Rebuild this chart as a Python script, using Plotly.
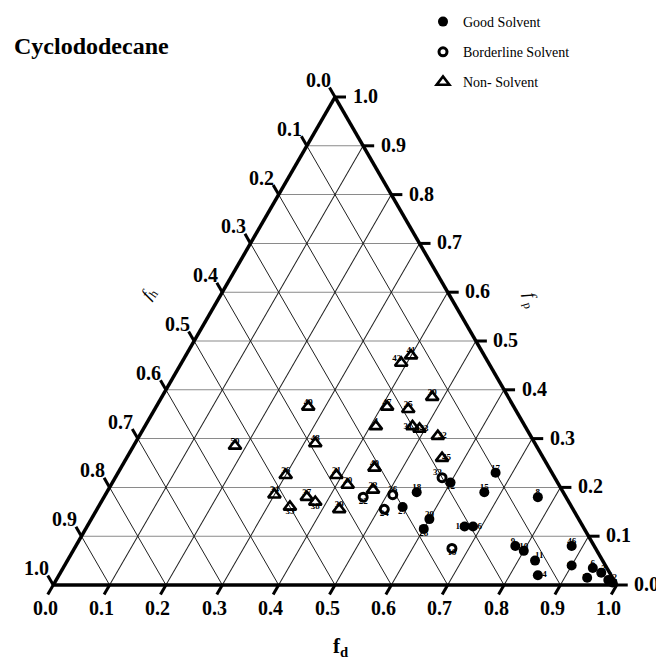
import math
import plotly.graph_objects as go

# ---------------- data ----------------
good_ids = [1, 2, 3, 5, 6, 7, 8, 9, 10, 11, 12, 13, 14, 15, 16, 17, 18, 27, 28, 29, 46]
good_fd = [0.98, 0.99, 0.96, 0.90, 0.94, 0.94, 0.77, 0.78, 0.80, 0.83, 0.60, 0.67, 0.85, 0.67, 0.685, 0.67, 0.55, 0.54, 0.60, 0.60, 0.88]
good_fp = [0.01, 0.005, 0.025, 0.04, 0.035, 0.015, 0.18, 0.08, 0.07, 0.05, 0.21, 0.12, 0.02, 0.19, 0.12, 0.23, 0.19, 0.16, 0.115, 0.135, 0.08]
good_fh = [0.01, 0.005, 0.015, 0.06, 0.025, 0.045, 0.05, 0.14, 0.13, 0.12, 0.19, 0.21, 0.13, 0.14, 0.195, 0.10, 0.26, 0.30, 0.285, 0.265, 0.04]

border_ids = [19, 22, 24, 26, 33]
border_fd = [0.67, 0.46, 0.51, 0.51, 0.58]
border_fp = [0.075, 0.18, 0.155, 0.185, 0.22]
border_fh = [0.255, 0.36, 0.335, 0.305, 0.20]

non_ids = [4, 20, 21, 23, 25, 30, 31, 32, 34, 35, 36, 37, 38, 39, 40, 41, 42, 43, 45, 47, 48, 49, 50]
non_fd = [0.41, 0.42, 0.39, 0.47, 0.45, 0.48, 0.475, 0.53, 0.30, 0.34, 0.30, 0.36, 0.38, 0.43, 0.45, 0.40, 0.39, 0.49, 0.56, 0.41, 0.32, 0.27, 0.18]
non_fp = [0.325, 0.205, 0.225, 0.195, 0.36, 0.385, 0.325, 0.305, 0.185, 0.16, 0.225, 0.18, 0.17, 0.155, 0.24, 0.47, 0.455, 0.32, 0.26, 0.365, 0.29, 0.365, 0.285]
non_fh = [0.265, 0.375, 0.385, 0.335, 0.19, 0.135, 0.20, 0.165, 0.515, 0.50, 0.475, 0.46, 0.45, 0.415, 0.31, 0.13, 0.155, 0.19, 0.18, 0.225, 0.39, 0.365, 0.535]

tick_vals = [0.0, 0.1, 0.2, 0.3, 0.4, 0.5, 0.6, 0.7, 0.8, 0.9, 1.0]
tick_text = ["0.0", "0.1", "0.2", "0.3", "0.4", "0.5", "0.6", "0.7", "0.8", "0.9", "1.0"]

legend_names = ["Good Solvent", "Borderline Solvent", "Non- Solvent"]
title_text = "Cyclododecane"

# ---------------- layout geometry / styles ----------------
OFF = 8                          # default body margin of the html page
W_PX, H_PX = 664 - OFF, 666 - OFF  # figure fits the window exactly (no scrollbars)
ML, MT = 53 - OFF, 97 - OFF      # screen position of the plot area
PW, PH = 564, 488
MR = W_PX - ML - PW
MB = H_PX - MT - PH
SERIF = "Liberation Serif"

# equilateral triangle fitted & centred in the plot area (as plotly's ternary does) - screen px
TRI_W = min(PW, PH * 2 / math.sqrt(3))
TRI_H = TRI_W * math.sqrt(3) / 2
X0 = OFF + ML + (PW - TRI_W) / 2
YB = OFF + MT + PH - (PH - TRI_H) / 2

good_pos = {1: "top right", 2: "top right", 3: "top right", 5: "middle left", 6: "top center",
            7: "middle left", 8: "top center", 9: "top left", 10: "top center", 11: "top right",
            12: "bottom center", 13: "middle left", 14: "middle right", 15: "top center",
            16: "middle right", 17: "top center", 18: "top center", 27: "bottom center",
            28: "bottom center", 29: "top center", 46: "top center"}
border_pos = {19: "bottom center", 22: "bottom center", 24: "bottom center", 26: "top center", 33: "top left"}
non_pos = {4: "top center", 20: "top center", 21: "top center", 23: "top center", 25: "top center",
           30: "top center", 31: "middle left", 32: "middle right", 34: "top center", 35: "bottom center",
           36: "top center", 37: "top center", 38: "bottom center", 39: "top center", 40: "top center",
           41: "top center", 42: "top left", 43: "middle right", 45: "middle right", 47: "top center",
           48: "top center", 49: "top center", 50: "top center"}


def tern_px(fp, fh, fd):
    """ternary composition -> screen pixel position (same mapping as the ternary subplot)"""
    s = fp + fh + fd
    fp, fd = fp / s, fd / s
    return X0 + TRI_W * (fd + fp / 2), YB - TRI_H * fp


def px_x(px):
    return (px - OFF - ML) / PW


def px_y(py):
    return (OFF + MT + PH - py) / PH


fig = go.Figure()

# data markers (legend)
series = [
    (legend_names[0], good_fd, good_fp, good_fh, dict(symbol="circle", size=10, color="black",
                                                       line=dict(width=0, color="black"))),
    (legend_names[1], border_fd, border_fp, border_fh, dict(symbol="circle-open", size=8, color="black",
                                                             line=dict(width=3, color="black"))),
    (legend_names[2], non_fd, non_fp, non_fh, dict(symbol="triangle-up-open", size=11, color="black",
                                                    line=dict(width=2.6, color="black"))),
]
for i, (name, fd, fp, fh, mk) in enumerate(series):
    fig.add_trace(go.Scatterternary(a=fp, b=fh, c=fd, mode="markers", name=name, marker=mk,
                                    legendgroup="g%d" % i, cliponaxis=False, hoverinfo="skip"))

# point number labels
for ids, fd, fp, fh, pos in [(good_ids, good_fd, good_fp, good_fh, good_pos),
                             (border_ids, border_fd, border_fp, border_fh, border_pos),
                             (non_ids, non_fd, non_fp, non_fh, non_pos)]:
    fig.add_trace(go.Scatterternary(a=fp, b=fh, c=fd, mode="text", text=[str(k) for k in ids],
                                    textposition=[pos[k] for k in ids],
                                    textfont=dict(family=SERIF, size=9, color="#000000", weight="bold"),
                                    showlegend=False, cliponaxis=False, hoverinfo="skip"))

# outside tick marks and tick labels (counter-clockwise convention of the reference)
shapes = []
annotations = []
tick_font = dict(family=SERIF, size=20, color="black", weight="bold")
TL = 11
edges = [
    # (edge point function, tick direction, label offset)
    (lambda v: tern_px(0.0, 1 - v, v), (-0.5, 0.866), (-8, 23)),        # bottom : f_d
    (lambda v: tern_px(v, 0.0, 1 - v), (1.0, 0.0), (30, -1)),           # right  : f_p
    (lambda v: tern_px(1 - v, v, 0.0), (-0.5, -0.866), (-17, -17)),     # left   : f_h
]
for fn, (ux, uy), (lx, ly) in edges:
    for v, t in zip(tick_vals, tick_text):
        ex, ey = fn(v)
        shapes.append(dict(type="line", xref="paper", yref="paper",
                           x0=px_x(ex), y0=px_y(ey), x1=px_x(ex + TL * ux), y1=px_y(ey + TL * uy),
                           line=dict(color="black", width=3)))
        annotations.append(dict(text=t, x=px_x(ex + lx), y=px_y(ey + ly), xref="paper", yref="paper",
                                xanchor="center", yanchor="middle", showarrow=False, font=tick_font))

annotations += [
    dict(text=title_text, x=px_x(12), y=px_y(46), xref="paper", yref="paper",
         xanchor="left", yanchor="middle", showarrow=False,
         font=dict(family=SERIF, size=24, color="black", weight="bold")),
    dict(text="f<sub>d</sub>", x=px_x(340), y=px_y(647), xref="paper", yref="paper",
         xanchor="center", yanchor="middle", showarrow=False,
         font=dict(family=SERIF, size=21, color="black", weight="bold")),
    dict(text="<i>f</i> <sub>p</sub>", x=px_x(530), y=px_y(300), xref="paper", yref="paper",
         xanchor="center", yanchor="middle", showarrow=False, textangle=75,
         font=dict(family=SERIF, size=17, color="black")),
    dict(text="<i>f</i><sub>h</sub>", x=px_x(149), y=px_y(294), xref="paper", yref="paper",
         xanchor="center", yanchor="middle", showarrow=False, textangle=-55,
         font=dict(family=SERIF, size=17, color="black")),
]

axis_common = dict(min=0, tick0=0, dtick=0.1, ticks="", showticklabels=False,
                   linewidth=3.5, linecolor="black", showgrid=True, gridwidth=1, title=dict(text=""))

fig.update_layout(
    width=W_PX, height=H_PX,
    margin=dict(l=ML, r=MR, t=MT, b=MB, autoexpand=False),
    paper_bgcolor="white", plot_bgcolor="white",
    ternary=dict(
        sum=1, bgcolor="white",
        aaxis=dict(axis_common, gridcolor="#8a8a8a"),
        baxis=dict(axis_common, gridcolor="#202020"),
        caxis=dict(axis_common, gridcolor="#202020"),
    ),
    showlegend=True,
    legend=dict(x=px_x(423), y=px_y(6), xanchor="left", yanchor="top",
                font=dict(family=SERIF, size=14, color="black"),
                tracegroupgap=9, bgcolor="rgba(0,0,0,0)"),
    shapes=shapes,
    annotations=annotations,
)

fig.write_html("out.html")
